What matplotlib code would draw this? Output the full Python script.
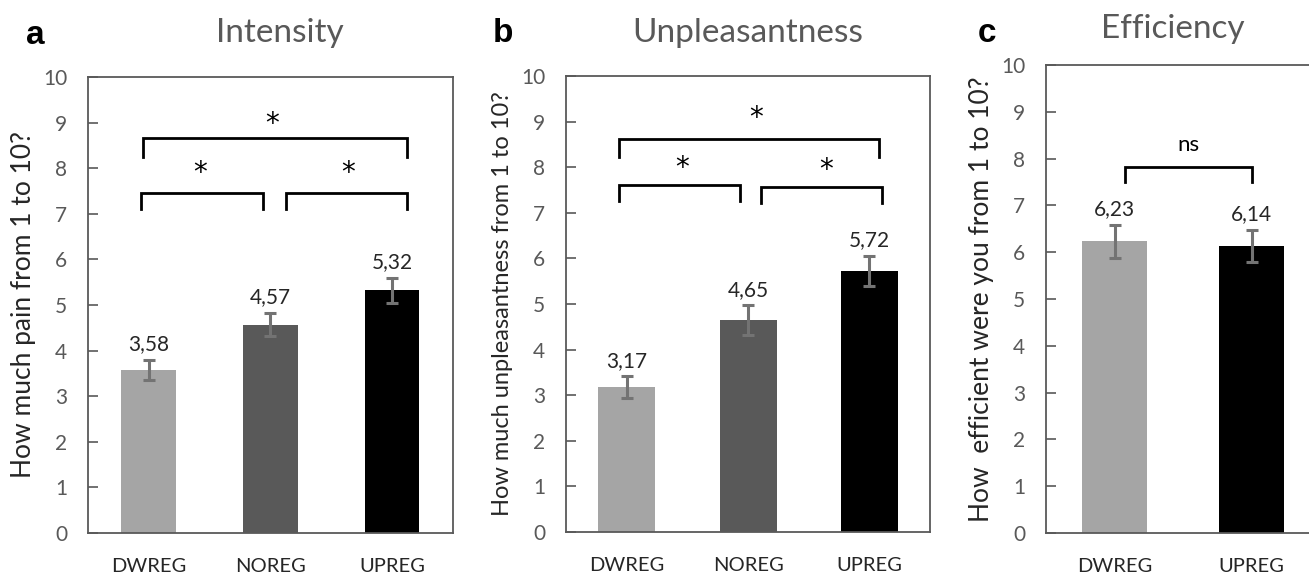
import matplotlib
matplotlib.use("Agg")
import matplotlib.pyplot as plt

plt.rcParams['font.family'] = ['Lato', 'DejaVu Sans']

# data
cats_ab = ['DWREG', 'NOREG', 'UPREG']
cats_c = ['DWREG', 'UPREG']
intensity = [3.58, 4.57, 5.32]
intensity_err = [0.22, 0.26, 0.27]
unpleasant = [3.17, 4.65, 5.72]
unpleasant_err = [0.24, 0.32, 0.33]
efficiency = [6.23, 6.14]
efficiency_err = [0.36, 0.34]

colors_ab = ['#a5a5a5', '#595959', '#000000']
colors_c = ['#a5a5a5', '#000000']

# brackets: (x0, x1, y_top, y_leg, label, label_x, label_y)
brackets_a = [(0.45, 2.62, 8.66, 8.25, '*', 1.51, 8.97),
              (0.44, 1.44, 7.46, 7.10, '*', 0.92, 7.90),
              (1.63, 2.62, 7.46, 7.10, '*', 2.14, 7.90)]
brackets_b = [(0.44, 2.58, 8.62, 8.22, '*', 1.57, 9.08),
              (0.44, 1.43, 7.61, 7.26, '*', 0.96, 7.98),
              (1.61, 2.60, 7.57, 7.22, '*', 2.14, 7.94)]
brackets_c = [(0.58, 1.50, 7.82, 7.50, 'ns', 1.04, 8.29)]

GRAY = '#595959'

fig = plt.figure(figsize=(13.09, 5.73), dpi=100)


def panel(rect, cats, vals, errs, cols, width, brackets, ylabel, ylsize, ylpad,
          title, letter, letter_xy, title_xy):
    ax = fig.add_axes(rect)
    x = [i + 0.5 for i in range(len(cats))]
    ax.bar(x, vals, width=width, color=cols, zorder=2)
    ax.errorbar(x, vals, yerr=errs, fmt='none', ecolor='#737373',
                elinewidth=2.2, capsize=4.5, capthick=2.2, zorder=3)
    for xi, v, e in zip(x, vals, errs):
        ax.annotate(f'{v:.2f}'.replace('.', ','), (xi, v + e), xytext=(0, 7),
                    textcoords='offset points', ha='center', va='baseline',
                    fontsize=15, color='#262626')
    for x0, x1, yt, yl, lab, lx, ly in brackets:
        ax.plot([x0, x0, x1, x1], [yl, yt, yt, yl], color='black', lw=2.0,
                solid_joinstyle='miter', zorder=4)
        if lab == '*':
            ax.text(lx, ly, lab, ha='center', va='center', fontsize=20,
                    color='black', family='DejaVu Sans')
        else:
            ax.text(lx, ly, lab, ha='center', va='center', fontsize=16,
                    color='black')
    ax.set_xlim(0, len(cats))
    ax.set_ylim(0, 10)
    ax.set_yticks(range(0, 11))
    ax.set_xticks(x)
    ax.set_xticklabels(cats)
    ax.tick_params(axis='y', direction='in', length=7, width=1.2, color=GRAY,
                   labelsize=15, labelcolor=GRAY, pad=15)
    ax.tick_params(axis='x', length=0, labelsize=14.5, labelcolor='#262626', pad=18)
    for s in ax.spines.values():
        s.set_color(GRAY)
        s.set_linewidth(1.3)
    ax.set_ylabel(ylabel, fontsize=ylsize, color='#262626', labelpad=ylpad)
    fig.text(title_xy[0], title_xy[1], title, ha='center', va='center',
             fontsize=24, color=GRAY)
    fig.text(letter_xy[0], letter_xy[1], letter, ha='center', va='center',
             fontsize=24, fontweight='bold', family='Liberation Sans')
    return ax


panel([0.0672, 0.0698, 0.2788, 0.7958], cats_ab, intensity, intensity_err,
      colors_ab, 0.45, brackets_a, 'How much pain from 1 to 10?', 19, 5,
      'Intensity', 'a', (35 / 1309, 1 - 35 / 573), (280 / 1309, 1 - 33 / 573))
panel([0.4324, 0.0716, 0.2781, 0.7958], cats_ab, unpleasant, unpleasant_err,
      colors_ab, 0.47, brackets_b, 'How much unpleasantness from 1 to 10?', 17, 6,
      'Unpleasantness', 'b', (503 / 1309, 1 - 33 / 573), (748 / 1309, 1 - 33 / 573))
panel([0.7991, 0.0698, 0.2093, 0.8168], cats_c, efficiency, efficiency_err,
      colors_c, 0.47, brackets_c, 'How  efficient were you from 1 to 10?', 19, 5,
      'Efficiency', 'c', (987 / 1309, 1 - 34 / 573), (1173 / 1309, 1 - 29 / 573))

fig.savefig('out.png', dpi=100)
